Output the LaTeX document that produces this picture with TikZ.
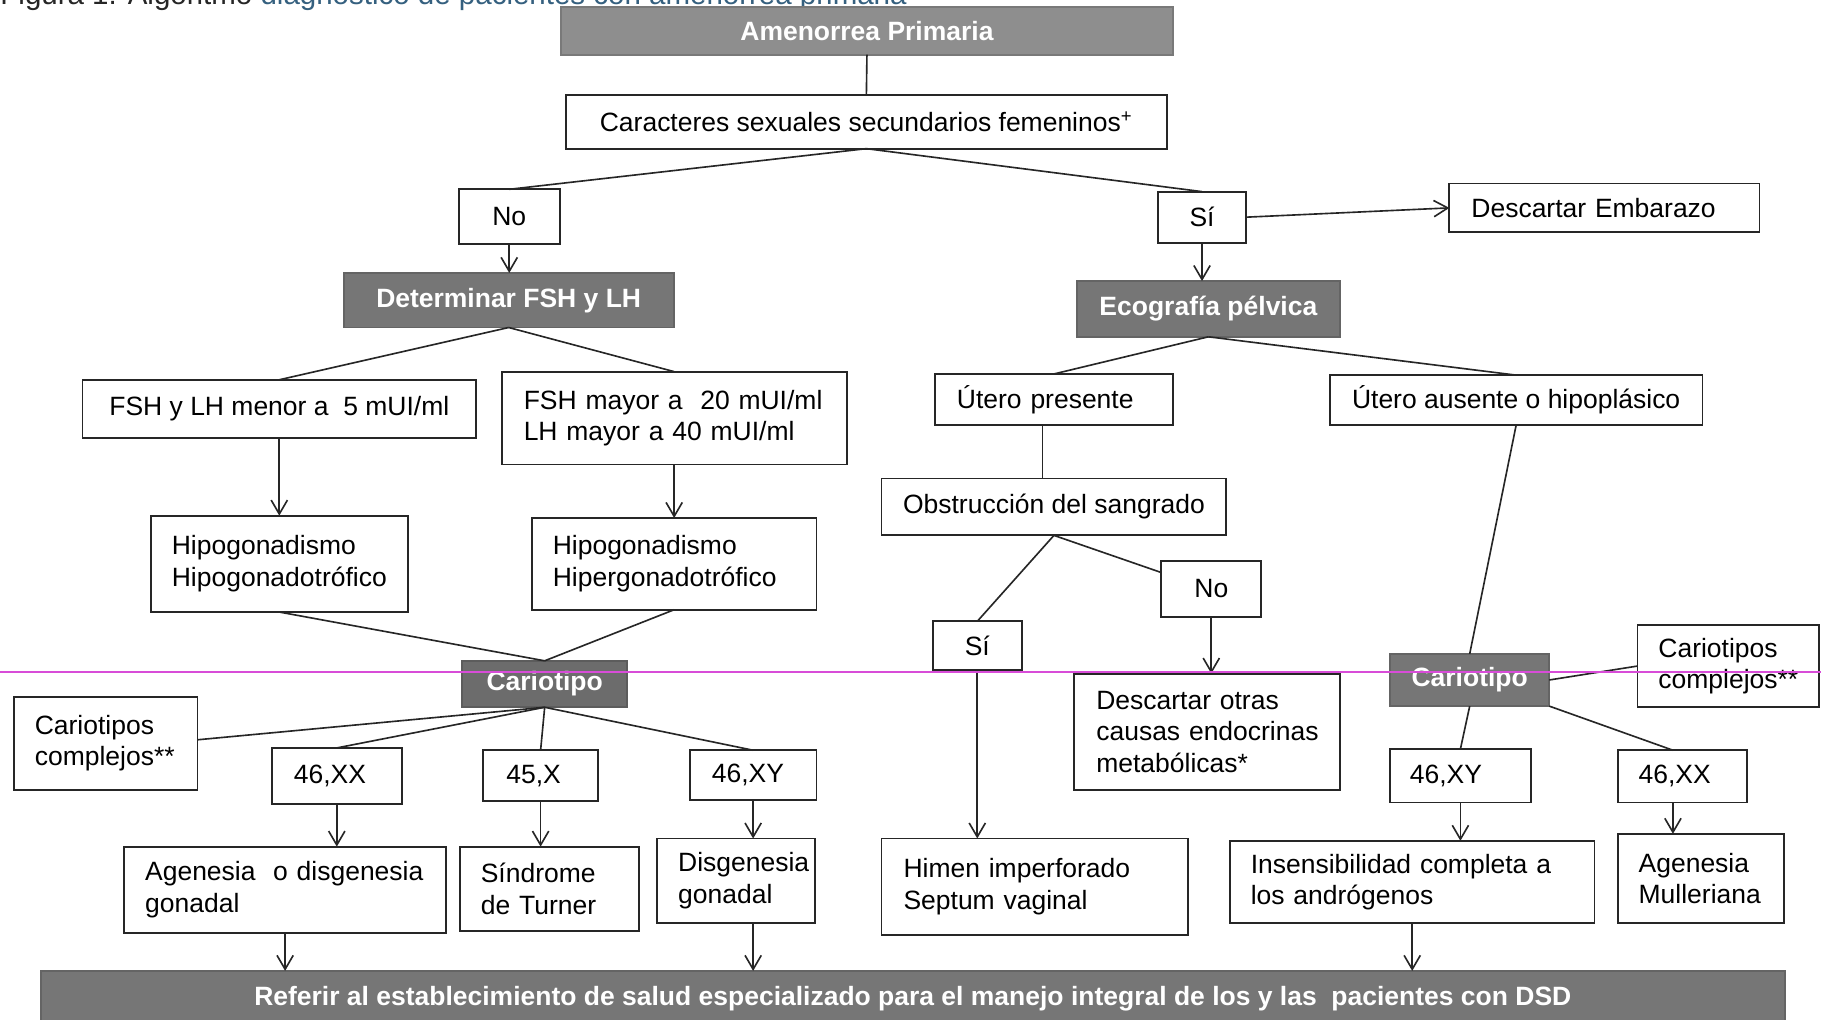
\documentclass[tikz,border=0pt]{standalone}
\usepackage{fontspec}
\setmainfont{Liberation Sans}
\usetikzlibrary{arrows.meta}
\definecolor{hdrA}{HTML}{8E8E8E}
\definecolor{hdrB}{HTML}{767676}
\definecolor{hdrC}{HTML}{6C6C6C}
\definecolor{capblue}{HTML}{35607F}
\definecolor{guide}{HTML}{D84CD8}
\newcommand\nohyph{\hyphenpenalty=10000\relax\exhyphenpenalty=10000\relax}
\tikzset{
  box/.style={draw=black!85, line width=0.8pt, fill=white, inner ysep=0pt, outer sep=0pt,
    font=\fontsize{11.4}{13.6}\selectfont\nohyph, text=black},
  hdr/.style={box, fill=#1, draw=#1!85!black, text=white,
    font=\fontsize{11.4}{13.6}\selectfont\bfseries},
  conn/.style={draw=black!85, line width=0.7pt},
  arr/.style={conn, -{Straight Barb[length=6pt,width=7pt]}},
  guideline/.style={draw=guide, line width=0.9pt},
}
% centred box: [style]{x1}{y1}{x2}{y2}{name}{text}
\newcommand\CB[7][]{%
  \pgfmathsetmacro\bw{(#4-#2)*0.5}\pgfmathsetmacro\bh{(#5-#3)*0.5}%
  \node[box,#1,minimum width=\bw pt,minimum height=\bh pt,inner xsep=0pt] (#6)
    at ({(#2+#4)/2},{(#3+#5)/2}) {#7};}
% left-aligned box: [style]{x1}{y1}{x2}{y2}{pad}{name}{text}
\newcommand\LB[8][]{%
  \pgfmathsetmacro\bw{(#4-#2-2*#6)*0.5}\pgfmathsetmacro\bp{#6*0.5}\pgfmathsetmacro\bh{(#5-#3)*0.5}%
  \node[box,#1,align=left,text width=\bw pt,inner xsep=\bp pt,minimum height=\bh pt] (#7)
    at ({(#2+#4)/2},{(#3+#5)/2}) {#8};}
\begin{document}
\begin{tikzpicture}[x=0.5pt,y=-0.5pt]
\fill[white] (0,0) rectangle (1568,878);
\useasboundingbox (0,0) rectangle (1568,878);

% caption (cut at the top, as in the scan)
\node[anchor=base west, inner sep=0pt, font=\fontsize{12.7}{14}\selectfont, text=black!85] (cap) at (0,4)
  {Figura 1. Algoritmo \textcolor{capblue}{diagnóstico de pacientes con amenorrea primaria}};

% ---- top ----
\CB[hdr=hdrA]{483}{6}{1010}{47}{amen}{Amenorrea Primaria}
\CB{487}{82}{1005}{128}{car}{Caracteres sexuales secundarios femeninos\textsuperscript{+}}
\CB{395}{163}{482}{210}{no1}{No}
\CB{997}{165}{1073}{209}{si1}{Sí}
\LB{1248}{158}{1515}{200}{19}{emb}{Descartar Embarazo}
\CB[hdr=hdrB]{296}{235}{580}{282}{det}{Determinar FSH y LH}
\CB[hdr=hdrB]{927}{242}{1154}{290}{eco}{Ecografía pélvica}

% ---- left branch ----
\CB{71}{327}{410}{377}{fmen}{FSH y LH menor a\ \ 5 mUI/ml}
\LB{432}{320}{729}{400}{19}{fmay}{FSH mayor a\ \ 20 mUI/ml\\LH mayor a 40 mUI/ml}
\LB{130}{444}{351}{527}{18}{hipo}{Hipogonadismo\\Hipogonadotrófico}
\LB{458}{446}{703}{525}{18}{hiper}{Hipogonadismo\\Hipergonadotrófico}
\CB[hdr=hdrC]{398}{569}{540}{609}{car1}{Cariotipo}
\LB{12}{600}{170}{680}{18}{ccl}{Cariotipos\\complejos**}
\LB{234}{644}{346}{692}{19}{xx1}{46,XX}
\LB{416}{646}{515}{690}{20}{x1}{45,X}
\LB{594}{646}{703}{689}{19}{xy1}{46,XY}
\LB{107}{729}{384}{803}{18}{agen}{Agenesia\ \ o disgenesia\\gonadal}
\LB{396}{729}{550}{802}{18}{turn}{Síndrome\\de Turner}
\LB{566}{722}{702}{795}{18}{disg}{Disgenesia\\gonadal}

% ---- right branch ----
\LB{805}{322}{1010}{366}{19}{up}{Útero presente}
\CB{1145}{323}{1466}{366}{ua}{Útero ausente o hipoplásico}
\CB{759}{412}{1056}{461}{obs}{Obstrucción del sangrado}
\CB{803}{535}{880}{577}{si2}{Sí}
\CB{1000}{483}{1086}{531}{no2}{No}
\LB{925}{580}{1154}{680}{19}{desc}{\makebox[0pt][l]{\parbox[b]{110pt}{\raggedright Descartar otras\\causas endocrinas\\metabólicas*}}}
\LB{759}{722}{1023}{805}{19}{himen}{Himen imperforado\\Septum vaginal}
\CB[hdr=hdrB]{1197}{563}{1334}{608}{car2}{Cariotipo}
\LB{1410}{538}{1566}{609}{18}{ccr}{Cariotipos\\complejos**}
\LB{1197}{645}{1318}{691}{17}{xy2}{46,XY}
\LB{1393}{646}{1504}{691}{18}{xx2}{46,XX}
\LB{1059}{724}{1373}{795}{18}{ins}{Insensibilidad completa a\\los andrógenos}
\LB{1393}{718}{1536}{795}{18}{agm}{Agenesia\\Mulleriana}

% ---- bottom bar ----
\CB[hdr=hdrB]{35}{836}{1537}{884}{bar}{Referir al establecimiento de salud especializado para el manejo integral de los y las\ \ pacientes con DSD}

% ---- connectors ----
\draw[conn] (amen.south) -- (car.north);
\draw[conn] (car.south) -- (no1.north);
\draw[conn] (car.south) -- (si1.north);
\draw[arr] (no1.south) -- (no1.south |- det.north);
\draw[arr] (si1.east) -- (emb.west);
\draw[arr] (si1.south) -- (si1.south |- eco.north);
\draw[conn] (det.south) -- (fmen.north);
\draw[conn] (det.south) -- (fmay.north);
\draw[arr] (fmen.south) -- (fmen.south |- hipo.north);
\draw[arr] (fmay.south) -- (fmay.south |- hiper.north);
\draw[conn] (hipo.south) -- (car1.north);
\draw[conn] (hiper.south) -- (car1.north);
\draw[conn] (car1.south) -- ([yshift=1.5pt]ccl.east);
\draw[conn] (car1.south) -- (xx1.north);
\draw[conn] (car1.south) -- (x1.north);
\draw[conn] (car1.south) -- (xy1.north);
\draw[arr] (xx1.south) -- (xx1.south |- agen.north);
\draw[arr] (x1.south) -- (x1.south |- turn.north);
\draw[arr] (xy1.south) -- (xy1.south |- disg.north);
\draw[arr] (agen.south) -- (agen.south |- bar.north);
\draw[arr] (disg.south -| xy1.south) -- (xy1.south |- bar.north);

\draw[conn] (eco.south) -- (up.north);
\draw[conn] (eco.south) -- (ua.north);
\draw[conn] ([xshift=-5pt]up.south) -- ([xshift=-5pt]up.south |- obs.north);
\draw[conn] (obs.south) -- (si2.north);
\draw[conn] (obs.south) -- ([yshift=-5pt]no2.north west);
\draw[arr] (no2.south) -- (no2.south |- desc.north);
\draw[arr] (si2.south) -- (si2.south |- himen.north);
\draw[conn] (ua.south) -- (car2.north);
\draw[conn] (car2.south) -- (xy2.north);
\draw[conn] (car2.east) -- (ccr.west);
\draw[conn] (car2.south east) -- ([xshift=-4pt]xx2.north);
\draw[arr] (xy2.south) -- (xy2.south |- ins.north);
\draw[arr] ([xshift=-4pt]xx2.south) -- ([xshift=-4pt]xx2.south |- agm.north);
\draw[arr] (ins.south) -- (ins.south |- bar.north);

% ---- guide line across the scan ----
\coordinate (gL) at (0,579);
\coordinate (gR) at (1568,579);
\draw[guideline] (gL) -- (gR);
\end{tikzpicture}
\end{document}
